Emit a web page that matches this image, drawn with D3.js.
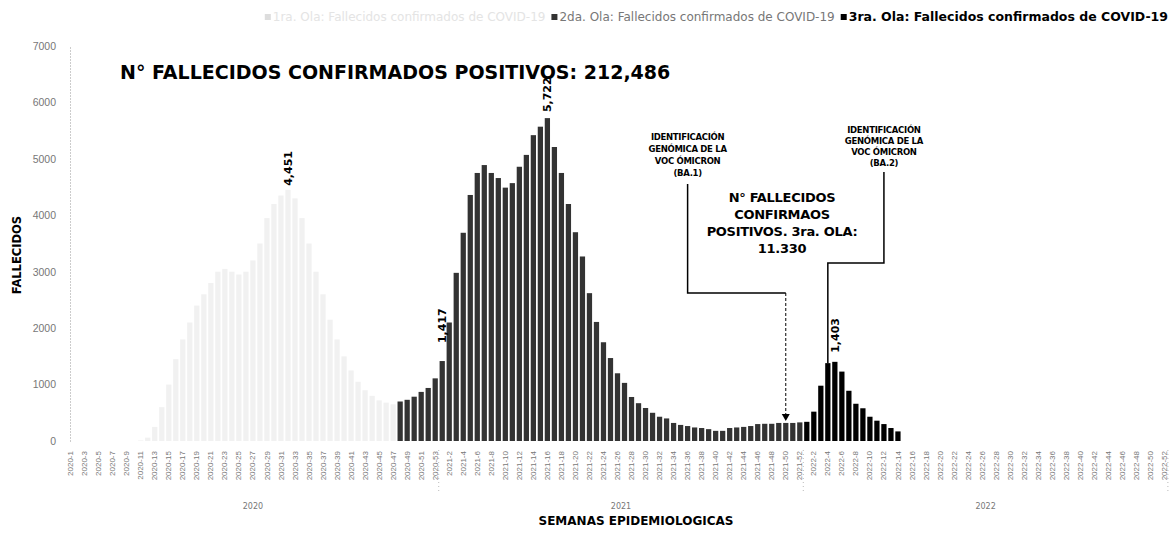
<!DOCTYPE html>
<html>
<head>
<meta charset="utf-8">
<script src="https://cdn.jsdelivr.net/npm/d3@7"></script>
<style>
  body { margin: 0; background: #fff; }
  svg { font-family: "DejaVu Sans", sans-serif; }
</style>
</head>
<body>
<svg id="chart"></svg>
<script>
// category axis: epidemiological weeks per year
const years = [2020, 2021, 2022];
const weeksPerYear = [53, 52, 52];

// weekly deaths, each wave starts at its own week
const ola1Start = '2020-11';
const ola1 = [10, 60, 250, 600, 1000, 1450, 1800, 2100, 2400, 2600, 2800, 3000, 3050, 3000,
  2950, 3000, 3200, 3500, 3950, 4200, 4350, 4451, 4300, 3950, 3500, 3000, 2600, 2150, 1800,
  1500, 1250, 1050, 900, 800, 720, 680, 650];

const ola2Start = '2020-48';
const ola2 = [700, 730, 785, 870, 940, 1110, 1417, 2100, 2980, 3690, 4360, 4750, 4890, 4750,
  4660, 4490, 4570, 4860, 5070, 5420, 5570, 5722, 5210, 4750, 4200, 3700, 3270, 2620, 2110,
  1750, 1470, 1200, 1030, 780, 670, 585, 500, 430, 400, 320, 285, 265, 240, 230, 210, 180,
  180, 230, 240, 250, 265, 300, 305, 305, 320, 320, 320, 330];

const ola3Start = '2022-1';
const ola3 = [340, 520, 980, 1380, 1403, 1230, 890, 660, 580, 430, 360, 300, 230, 170];

const seriesNames = [
  '1ra. Ola: Fallecidos confirmados de COVID-19',
  '2da. Ola: Fallecidos confirmados de COVID-19',
  '3ra. Ola: Fallecidos confirmados de COVID-19'
];
const seriesColors = ['#f1f1f1', '#333333', '#000000'];
const legendTextColors = ['#e4e4e4', '#777777', '#000000'];

const yTicks = [0, 1000, 2000, 3000, 4000, 5000, 6000, 7000];

// weeks that carry a rotated value label
const labelWeeks = ['2020-32', '2021-1', '2021-16', '2022-5'];
const labelLift = [4, 18, 6, 9];

const totalTitle = 'N° FALLECIDOS CONFIRMADOS POSITIVOS: 212,486';
const ola3Total = ['N° FALLECIDOS', 'CONFIRMAOS', 'POSITIVOS. 3ra. OLA:', '11.330'];
const ba1Lines = ['IDENTIFICACIÓN', 'GENÓMICA DE LA', 'VOC ÓMICRON', '(BA.1)'];
const ba2Lines = ['IDENTIFICACIÓN', 'GENÓMICA DE LA', 'VOC ÓMICRON', '(BA.2)'];

const width = 1174, height = 533;

const weeks = [];
years.forEach((yr, i) => {
  for (let k = 1; k <= weeksPerYear[i]; k++) weeks.push(`${yr}-${k}`);
});

const bars = [];
[[ola1Start, ola1], [ola2Start, ola2], [ola3Start, ola3]].forEach(([start, vals], s) => {
  const i0 = weeks.indexOf(start);
  vals.forEach((v, j) => bars.push({ week: weeks[i0 + j], value: v, serie: s }));
});
const valueOf = new Map(bars.map(d => [d.week, d.value]));

const svg = d3.select('#chart')
  .attr('width', width)
  .attr('height', height);

const x = d3.scaleBand()
  .domain(weeks)
  .range([68, 1167])
  .paddingInner(0.25);

const y = d3.scaleLinear()
  .domain([0, 7000])
  .range([441, 46]);

const cx = w => x(w) + x.bandwidth() / 2;

// bars
svg.append('g')
  .selectAll('rect')
  .data(bars)
  .join('rect')
  .attr('x', d => x(d.week))
  .attr('y', d => y(d.value))
  .attr('width', x.bandwidth())
  .attr('height', d => y(0) - y(d.value))
  .attr('fill', d => seriesColors[d.serie]);

// y axis
const yAxis = svg.append('g')
  .attr('transform', `translate(70,0)`)
  .call(d3.axisLeft(y).tickValues(yTicks).tickSize(0).tickPadding(14).tickFormat(d3.format('d')));
yAxis.select('.domain')
  .attr('stroke', '#999')
  .attr('stroke-dasharray', '1,2');
yAxis.selectAll('text')
  .attr('fill', '#777')
  .style('font-size', '10.5px');

svg.append('text')
  .attr('transform', 'translate(21,255) rotate(-90)')
  .attr('text-anchor', 'middle')
  .style('font-size', '11.5px')
  .style('font-weight', 'bold')
  .text('FALLECIDOS');

// x axis with every other week
const xAxis = svg.append('g')
  .attr('transform', `translate(0,${y(0) + 6})`)
  .call(d3.axisBottom(x).tickValues(weeks.filter((d, i) => i % 2 === 0)).tickSize(0));
xAxis.select('.domain').remove();
xAxis.selectAll('text')
  .attr('transform', 'rotate(-90)')
  .attr('text-anchor', 'end')
  .attr('x', -4)
  .attr('y', 0)
  .attr('dy', '0.32em')
  .attr('fill', '#777')
  .style('font-size', '8px');

// year groups
let idx = 0;
years.forEach((yr, i) => {
  const first = weeks[idx], last = weeks[idx + weeksPerYear[i] - 1];
  const x0 = x(first) - x.step() * x.paddingInner() / 2;
  const x1 = x(last) + x.bandwidth() + x.step() * x.paddingInner() / 2;
  svg.append('text')
    .attr('x', (x0 + x1) / 2)
    .attr('y', 509)
    .attr('text-anchor', 'middle')
    .attr('fill', '#777')
    .style('font-size', '8px')
    .text(yr);
  svg.append('line')
    .attr('x1', x1).attr('x2', x1)
    .attr('y1', 450).attr('y2', 494)
    .attr('stroke', '#bbb')
    .attr('stroke-dasharray', '1,3');
  idx += weeksPerYear[i];
});

svg.append('text')
  .attr('x', 636)
  .attr('y', 525)
  .attr('text-anchor', 'middle')
  .style('font-size', '12px')
  .style('font-weight', 'bold')
  .text('SEMANAS EPIDEMIOLOGICAS');

// title
svg.append('text')
  .attr('x', 120)
  .attr('y', 79)
  .style('font-size', '19px')
  .style('font-weight', 'bold')
  .text(totalTitle);

// rotated value labels
labelWeeks.forEach((w, i) => {
  svg.append('text')
    .attr('transform', `translate(${cx(w) + 4},${y(valueOf.get(w)) - labelLift[i]}) rotate(-90)`)
    .style('font-size', '11px')
    .style('font-weight', 'bold')
    .text(d3.format(',')(valueOf.get(w)));
});

// legend, laid out from the right edge
const legend = svg.append('g').attr('transform', 'translate(0,21)');
let lx = 1168;
for (let i = seriesNames.length - 1; i >= 0; i--) {
  const t = legend.append('text')
    .attr('y', 0)
    .attr('fill', legendTextColors[i])
    .style('font-size', i === 2 ? '12.5px' : '12px')
    .style('font-weight', i === 2 ? 'bold' : 'normal')
    .text(seriesNames[i]);
  const w = t.node().getComputedTextLength();
  t.attr('x', lx - w);
  legend.append('rect')
    .attr('x', lx - w - 8)
    .attr('y', -7)
    .attr('width', 6)
    .attr('height', 6)
    .attr('fill', i === 0 ? '#ddd' : seriesColors[i]);
  lx = lx - w - 14;
}

function multiline(lines, cxp, top, lh, size) {
  lines.forEach((l, i) => {
    svg.append('text')
      .attr('x', cxp)
      .attr('y', top + i * lh)
      .attr('text-anchor', 'middle')
      .style('font-size', size)
      .style('font-weight', 'bold')
      .style('letter-spacing', '-0.3px')
      .text(l);
  });
}

// BA.1 identification
const ba1Text = cx('2021-36');
const ba1Target = '2021-50';
multiline(ba1Lines, ba1Text, 140, 12, '8.5px');
svg.append('path')
  .attr('d', `M${ba1Text},184 V293 H${cx(ba1Target)}`)
  .attr('fill', 'none')
  .attr('stroke', '#000')
  .attr('stroke-width', 1.5);
svg.append('line')
  .attr('x1', cx(ba1Target)).attr('x2', cx(ba1Target))
  .attr('y1', 293).attr('y2', y(valueOf.get(ba1Target)) - 8)
  .attr('stroke', '#000')
  .attr('stroke-dasharray', '3,2');
svg.append('path')
  .attr('d', `M${cx(ba1Target) - 4},${y(valueOf.get(ba1Target)) - 9} h8 l-4,7 z`)
  .attr('fill', '#000');

// BA.2 identification
const ba2Text = cx('2022-12');
const ba2Target = '2022-4';
multiline(ba2Lines, ba2Text, 133, 11, '8.5px');
svg.append('path')
  .attr('d', `M${ba2Text},172 V263 H${cx(ba2Target)} V${y(valueOf.get(ba2Target))}`)
  .attr('fill', 'none')
  .attr('stroke', '#000')
  .attr('stroke-width', 1.5);

// third wave total
multiline(ola3Total, 782, 202, 17, '13px');
</script>
</body>
</html>
